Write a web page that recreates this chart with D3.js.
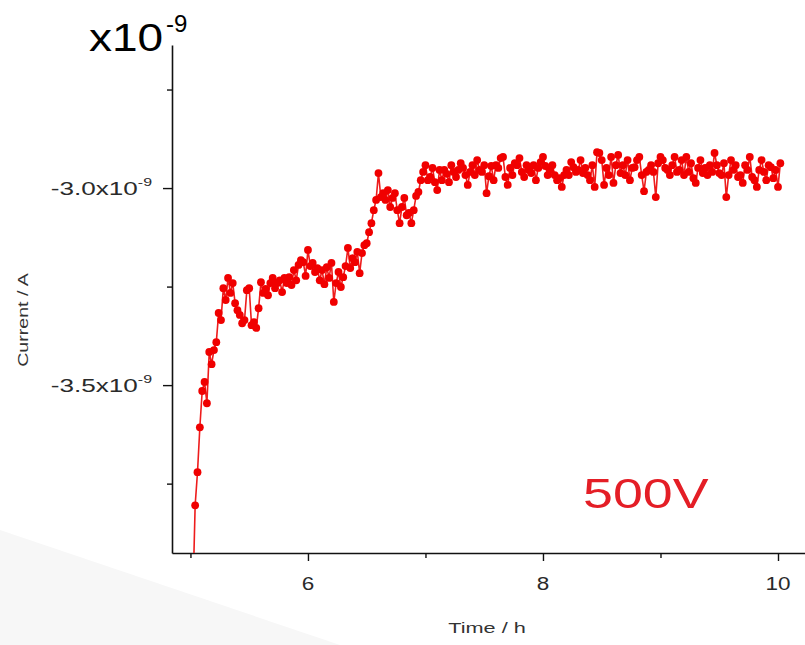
<!DOCTYPE html>
<html><head><meta charset="utf-8">
<script src="https://cdn.jsdelivr.net/npm/d3@7"></script>
<style>body{margin:0;background:#fff}svg{display:block}text{font-family:"Liberation Sans",Arial,Helvetica,sans-serif}</style>
</head><body><svg width="805" height="645"></svg>
<script>
// Time in hours
const times = [
5.02,5.04,5.06,5.08,5.10,5.12,5.14,5.16,5.18,5.20,5.22,5.24,5.26,5.28,5.30,5.32,5.34,5.36,5.38,5.40,5.42,5.44,5.46,5.48,5.50,
5.52,5.54,5.56,5.58,5.60,5.62,5.64,5.66,5.68,5.70,5.72,5.74,5.76,5.78,5.80,5.82,5.84,5.86,5.88,5.90,5.92,5.94,5.96,5.98,6.00,
6.02,6.04,6.06,6.08,6.10,6.12,6.14,6.16,6.18,6.20,6.22,6.24,6.26,6.28,6.30,6.32,6.34,6.36,6.38,6.40,6.42,6.44,6.46,6.48,6.50,
6.52,6.54,6.56,6.58,6.60,6.62,6.64,6.66,6.68,6.70,6.72,6.74,6.76,6.78,6.80,6.82,6.84,6.86,6.88,6.90,6.92,6.94,6.96,6.98,7.00,
7.02,7.04,7.06,7.08,7.10,7.12,7.14,7.16,7.18,7.20,7.22,7.24,7.26,7.28,7.30,7.32,7.34,7.36,7.38,7.40,7.42,7.44,7.46,7.48,7.50,
7.52,7.54,7.56,7.58,7.60,7.62,7.64,7.66,7.68,7.70,7.72,7.74,7.76,7.78,7.80,7.82,7.84,7.86,7.88,7.90,7.92,7.94,7.96,7.98,8.00,
8.02,8.04,8.06,8.08,8.10,8.12,8.14,8.16,8.18,8.20,8.22,8.24,8.26,8.28,8.30,8.32,8.34,8.36,8.38,8.40,8.42,8.44,8.46,8.48,8.50,
8.52,8.54,8.56,8.58,8.60,8.62,8.64,8.66,8.68,8.70,8.72,8.74,8.76,8.78,8.80,8.82,8.84,8.86,8.88,8.90,8.92,8.94,8.96,8.98,9.00,
9.02,9.04,9.06,9.08,9.10,9.12,9.14,9.16,9.18,9.20,9.22,9.24,9.26,9.28,9.30,9.32,9.34,9.36,9.38,9.40,9.42,9.44,9.46,9.48,9.50,
9.52,9.54,9.56,9.58,9.60,9.62,9.64,9.66,9.68,9.70,9.72,9.74,9.76,9.78,9.80,9.82,9.84,9.86,9.88,9.90,9.92,9.94,9.96,9.98,10.00,
10.02];
// Current in units of 1e-9 A
const current = [
-4.046,-3.805,-3.721,-3.607,-3.515,-3.492,-3.546,-3.416,-3.447,-3.411,-3.391,-3.317,-3.335,-3.254,-3.284,-3.228,-3.266,-3.241,-3.292,-3.310,-3.322,-3.343,-3.335,-3.259,-3.254,
-3.348,-3.340,-3.355,-3.305,-3.239,-3.266,-3.256,-3.272,-3.241,-3.228,-3.254,-3.241,-3.234,-3.264,-3.228,-3.241,-3.226,-3.246,-3.208,-3.234,-3.195,-3.183,-3.188,-3.223,-3.157,
-3.198,-3.190,-3.213,-3.203,-3.234,-3.208,-3.244,-3.201,-3.228,-3.190,-3.289,-3.241,-3.213,-3.251,-3.226,-3.198,-3.152,-3.203,-3.178,-3.188,-3.162,-3.216,-3.165,-3.145,-3.140,
-3.112,-3.089,-3.056,-3.030,-2.962,-3.023,-3.013,-3.030,-3.005,-3.048,-3.025,-3.013,-3.056,-3.089,-3.048,-3.025,-3.069,-3.063,-3.089,-3.056,-3.020,-3.010,-2.980,-2.959,-2.942,
-2.980,-2.972,-2.949,-2.985,-3.005,-2.954,-2.980,-2.954,-2.964,-2.985,-2.942,-2.959,-2.972,-2.954,-2.937,-2.949,-2.967,-2.992,-2.959,-2.942,-2.967,-2.929,-2.954,-2.959,-2.942,
-3.013,-2.970,-2.944,-2.980,-2.942,-2.949,-2.924,-2.921,-2.972,-2.992,-2.949,-2.967,-2.937,-2.942,-2.924,-2.959,-2.972,-2.942,-2.954,-2.962,-2.942,-2.980,-2.949,-2.934,-2.921,
-2.944,-2.967,-2.954,-2.942,-2.967,-2.980,-2.975,-2.997,-2.967,-2.954,-2.967,-2.934,-2.947,-2.959,-2.954,-2.929,-2.962,-2.949,-2.967,-2.980,-2.942,-2.997,-2.909,-2.911,-2.929,
-2.992,-2.949,-2.967,-2.921,-2.987,-2.942,-2.916,-2.962,-2.942,-2.967,-2.929,-2.980,-2.949,-2.947,-2.929,-2.921,-2.967,-3.008,-2.959,-2.954,-2.942,-2.959,-3.023,-2.937,-2.921,
-2.929,-2.949,-2.954,-2.967,-2.942,-2.921,-2.959,-2.954,-2.929,-2.967,-2.921,-2.959,-2.937,-2.975,-2.987,-2.949,-2.929,-2.962,-2.949,-2.967,-2.942,-2.959,-2.911,-2.942,-2.962,
-2.967,-2.937,-3.023,-2.967,-2.929,-2.954,-2.942,-2.972,-2.967,-2.987,-2.942,-2.954,-2.921,-2.972,-2.980,-2.997,-2.954,-2.929,-2.959,-2.980,-2.942,-2.947,-2.975,-2.954,-2.997,
-2.937];

const xTicks = [5, 6, 7, 8, 9, 10];
const xTickLabels = ["", "6", "", "8", "", "10"];
const yTicks = [-3.75, -3.5, -3.25, -3.0, -2.75];
const yTickLabels = ["", "-3.5", "", "-3.0", ""];
const exponent = "-9";
const xTitle = "Time / h";
const yTitle = "Current / A";
const annotation = "500V";

const svg = d3.select("svg");

// faint background wedge
svg.append("path").attr("d", "M0,530 L340,645 L0,645 Z").attr("fill", "#f7f7f7");

const x = d3.scaleLinear().domain([4.843, 10.4]).range([172, 825]);
const y = d3.scaleLinear().domain([-3.926, -2.637]).range([553, 45]);

svg.append("defs").append("clipPath").attr("id", "plot")
  .append("rect").attr("x", 172).attr("y", 45).attr("width", 640).attr("height", 508);

// axes
const xa = svg.append("g").attr("transform", "translate(0,553)")
  .call(d3.axisBottom(x).tickValues(xTicks).tickSize(5).tickSizeOuter(0).tickFormat(""));
const ya = svg.append("g").attr("transform", "translate(172,0)")
  .call(d3.axisLeft(y).tickValues(yTicks).tickSize(5).tickSizeOuter(0).tickFormat(""));
[xa, ya].forEach(g => {
  g.select(".domain").attr("stroke", "#111").attr("stroke-width", 1.6);
  g.selectAll(".tick line").attr("stroke", "#111").attr("stroke-width", 1.4);
});
xa.selectAll(".tick line").attr("y2", (d, i) => xTickLabels[i] ? 8 : 5);
ya.selectAll(".tick line").attr("x2", (d, i) => yTickLabels[i] ? -9 : -5);

// x tick labels
xTicks.forEach((v, i) => {
  if (!xTickLabels[i]) return;
  svg.append("g").attr("transform", `translate(${x(v)},590) scale(1.25,1)`)
    .append("text").attr("text-anchor", "middle").attr("font-size", 18).attr("fill", "#2a2a2a")
    .text(xTickLabels[i]);
});
// y tick labels
yTicks.forEach((v, i) => {
  if (!yTickLabels[i]) return;
  const t = svg.append("g").attr("transform", `translate(152,${y(v) + 7}) scale(1.45,1)`)
    .append("text").attr("text-anchor", "end").attr("font-size", 18).attr("fill", "#2a2a2a");
  t.append("tspan").text(yTickLabels[i] + "x10");
  t.append("tspan").attr("font-size", 11).attr("dy", -9).text(exponent);
});

// axis titles
svg.append("g").attr("transform", "translate(487,633) scale(1.55,1)")
  .append("text").attr("text-anchor", "middle").attr("font-size", 14).attr("fill", "#333").text(xTitle);
svg.append("g").attr("transform", "translate(28,320) rotate(-90) scale(1.4,1)")
  .append("text").attr("text-anchor", "middle").attr("font-size", 14).attr("fill", "#333").text(yTitle);

// data
const pts = times.map((t, i) => [t, current[i]]);
const plot = svg.append("g").attr("clip-path", "url(#plot)");
plot.append("path").datum(pts)
  .attr("fill", "none").attr("stroke", "#ee1c1c").attr("stroke-width", 1.6)
  .attr("d", d3.line().x(d => x(d[0])).y(d => y(d[1])));
plot.selectAll("circle").data(pts).join("circle")
  .attr("cx", d => x(d[0])).attr("cy", d => y(d[1])).attr("r", 3.9).attr("fill", "#f00000");

// exponent header
svg.append("g").attr("transform", "translate(89,51) scale(1.18,1)")
  .append("text").attr("font-size", 39).attr("fill", "#000").text("x10");
svg.append("text").attr("x", 166).attr("y", 32).attr("font-size", 24).attr("fill", "#000").text(exponent);

// annotation
svg.append("g").attr("transform", "translate(583,508) scale(1.25,1)")
  .append("text").attr("font-size", 43).attr("fill", "#e41e26").text(annotation);
</script></body></html>
